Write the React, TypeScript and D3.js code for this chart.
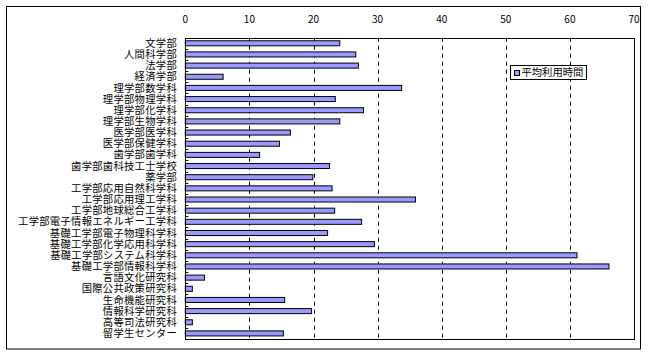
import React from "react";
import * as d3 from "d3";

const categories = [
  "文学部", "人間科学部", "法学部", "経済学部", "理学部数学科", "理学部物理学科",
  "理学部化学科", "理学部生物学科", "医学部医学科", "医学部保健学科", "歯学部歯学科",
  "歯学部歯科技工士学校", "薬学部", "工学部応用自然科学科", "工学部応用理工学科",
  "工学部地球総合工学科", "工学部電子情報エネルギー工学科", "基礎工学部電子物理科学科",
  "基礎工学部化学応用科学科", "基礎工学部システム科学科", "基礎工学部情報科学科",
  "言語文化研究科", "国際公共政策研究科", "生命機能研究科", "情報科学研究科",
  "高等司法研究科", "留学生センター",
];
const values = [
  24.1, 26.6, 27.0, 5.9, 33.75, 23.4, 27.8, 24.1, 16.4, 14.7, 11.6,
  22.5, 19.9, 22.9, 35.9, 23.3, 27.5, 22.2, 29.5, 61.1, 66.1,
  3.0, 1.1, 15.5, 19.7, 1.1, 15.3,
];
const seriesName = "平均利用時間";
const xTicks = [0, 10, 20, 30, 40, 50, 60, 70];

const W = 648, H = 356;
const left = 185.3, right = 634, top = 37.7, bottom = 339;
const font = "'Noto Sans CJK JP', 'Noto Sans', sans-serif";

export default function App() {
  const x = d3.scaleLinear().domain([0, 70]).range([left, right]);
  const y = d3.scaleBand<string>().domain(categories).range([top, bottom]).paddingInner(0.55).paddingOuter(0.275);
  const yb = d3.scaleBand<string>().domain(categories).range([top, bottom]);
  return (
    <svg width={W} height={H} style={{ position: "absolute", left: 0, top: 0, display: "block" }} fontFamily={font}>
      <rect x={0} y={0} width={W} height={H} fill="#fff" />
      <rect x={6.5} y={6.5} width={634} height={342.5} fill="#fff" stroke="#000" strokeWidth={1} />
      {xTicks.slice(1, -1).map((t) => (
        <line key={"g" + t} x1={Math.round(x(t)) + 0.5} x2={Math.round(x(t)) + 0.5} y1={top} y2={bottom}
          stroke="#000" strokeWidth={1} strokeDasharray="4,4" />
      ))}
      {xTicks.map((t) => (
        <text key={"t" + t} x={x(t)} y={23} fontSize={10} textAnchor="middle" fill="#000">{t}</text>
      ))}
      {categories.map((c, i) => (
        <rect key={"b" + c} x={x(0)} y={y(c)!} width={x(values[i]) - x(0)} height={y.bandwidth()}
          fill="#9999ff" stroke="#000" strokeWidth={1} />
      ))}
      {categories.map((c) => (
        <line key={"k" + c} x1={left} x2={left + 3} y1={Math.round(yb(c)!) + 0.5} y2={Math.round(yb(c)!) + 0.5}
          stroke="#000" strokeWidth={1} />
      ))}
      <rect x={Math.round(left) + 0.5} y={Math.round(top) + 0.5} width={Math.round(right) - Math.round(left)}
        height={Math.round(bottom) - Math.round(top)} fill="none" stroke="#000" strokeWidth={1} />
      {categories.map((c) => (
        <text key={"l" + c} x={177} y={yb(c)! + yb.bandwidth() / 2 + 3.6} fontSize={10.3}
          textAnchor="end" fill="#000" letterSpacing={0.3}>{c}</text>
      ))}
      <rect x={510.5} y={65.5} width={76} height={14} fill="#fff" stroke="#000" strokeWidth={1} />
      <rect x={514.5} y={70.5} width={5} height={5} fill="#9999ff" stroke="#000" strokeWidth={1} />
      <text x={521.5} y={76.3} fontSize={10.3} fill="#000">{seriesName}</text>
    </svg>
  );
}
